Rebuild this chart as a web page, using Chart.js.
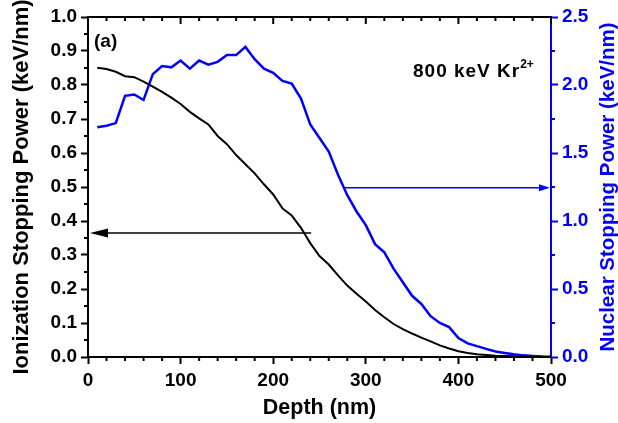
<!DOCTYPE html>
<html><head><meta charset="utf-8">
<script src="https://cdn.jsdelivr.net/npm/chart.js@4/dist/chart.umd.min.js"></script>
<style>html,body{margin:0;padding:0;background:#fff;overflow:hidden}</style>
</head><body>
<canvas id="c" width="618" height="423" style="display:block;width:618px;height:423px"></canvas>
<script>
const depth = [10,20,30,40,50,60,70,80,90,100,110,120,130,140,150,160,170,180,190,200,210,220,230,240,250,260,270,280,290,300,310,320,330,340,350,360,370,380,390,400,410,420,430,440,450,460,470,480,490,500];
const ionization = [0.851,0.847,0.839,0.826,0.823,0.810,0.795,0.780,0.763,0.744,0.721,0.702,0.684,0.650,0.626,0.594,0.567,0.540,0.508,0.478,0.437,0.416,0.380,0.335,0.297,0.272,0.240,0.210,0.186,0.163,0.138,0.117,0.097,0.082,0.069,0.057,0.046,0.034,0.025,0.017,0.012,0.008,0.006,0.004,0.003,0.002,0.001,0.001,0.0005,0.0];
const nuclear = [1.69,1.70,1.72,1.92,1.93,1.89,2.08,2.14,2.13,2.18,2.12,2.18,2.15,2.17,2.22,2.22,2.28,2.19,2.12,2.09,2.03,2.01,1.90,1.71,1.61,1.51,1.34,1.19,1.07,0.97,0.83,0.77,0.65,0.55,0.45,0.39,0.30,0.25,0.22,0.14,0.10,0.08,0.06,0.04,0.03,0.02,0.012,0.007,0.003,0.001];
const xTickValues = [0,100,200,300,400,500];
const leftTickValues = [0,0.1,0.2,0.3,0.4,0.5,0.6,0.7,0.8,0.9,1.0];
const rightTickValues = [0,0.5,1.0,1.5,2.0,2.5];
const ionArrowX = [241, 0];
const ionArrowY = 0.365;
const nucArrowX = [277, 500];
const nucArrowY = 1.245;
const panelLabel = '(a)';
const ionText = '800 keV Kr';
const ionCharge = '2+';
const xTitle = 'Depth (nm)';
const leftTitle = 'Ionization Stopping Power (keV/nm)';
const rightTitle = 'Nuclear Stopping Power (keV/nm)';

const FONT = '"Liberation Sans", Arial, Helvetica, sans-serif';
const BLUE = '#0000ff';

const extras = {
  id: 'extras',
  afterDatasetsDraw(chart) {
    const ctx = chart.ctx;
    const xs = chart.scales.x, yl = chart.scales.y, yr = chart.scales.y1;
    const a = chart.chartArea;
    ctx.save();
    ctx.strokeStyle = '#000'; ctx.lineWidth = 2;
    ctx.beginPath(); ctx.moveTo(a.left - 1, a.top); ctx.lineTo(a.right, a.top); ctx.stroke();
    for (let v = 0; v <= 500; v += 20) {
      const px = xs.getPixelForValue(v);
      const major = v % 100 === 0;
      ctx.beginPath();
      if (!major) { ctx.moveTo(px, a.bottom); ctx.lineTo(px, a.bottom + 4); }
      ctx.moveTo(px, a.top); ctx.lineTo(px, a.top + (major ? 7 : 4));
      ctx.stroke();
    }
    for (let i = 0; i < 10; i++) {
      const py = yl.getPixelForValue(i * 0.1 + 0.05);
      ctx.beginPath(); ctx.moveTo(a.left, py); ctx.lineTo(a.left - 4, py); ctx.stroke();
    }
    ctx.strokeStyle = BLUE;
    for (let i = 0; i < 5; i++) {
      const py = yr.getPixelForValue(i * 0.5 + 0.25);
      ctx.beginPath(); ctx.moveTo(a.right, py); ctx.lineTo(a.right + 4, py); ctx.stroke();
    }
    function arrow(x1, y1, x2, y2, color, len, hw) {
      ctx.strokeStyle = color; ctx.fillStyle = color; ctx.lineWidth = 1.5;
      const dir = Math.sign(x2 - x1);
      ctx.beginPath(); ctx.moveTo(x1, y1); ctx.lineTo(x2 - dir * len * 0.8, y2); ctx.stroke();
      ctx.beginPath(); ctx.moveTo(x2, y2); ctx.lineTo(x2 - dir * len, y2 - hw); ctx.lineTo(x2 - dir * len, y2 + hw); ctx.closePath(); ctx.fill();
    }
    const ly = yl.getPixelForValue(ionArrowY);
    arrow(xs.getPixelForValue(ionArrowX[0]), ly, xs.getPixelForValue(ionArrowX[1]) + 2, ly, '#000', 18, 4.5);
    const ry = yr.getPixelForValue(nucArrowY);
    arrow(xs.getPixelForValue(nucArrowX[0]), ry, xs.getPixelForValue(nucArrowX[1]) - 1, ry, BLUE, 11, 3.5);
    // texts
    ctx.fillStyle = '#000'; ctx.textBaseline = 'alphabetic'; ctx.textAlign = 'left';
    ctx.font = 'bold 19px ' + FONT;
    ctx.fillText(panelLabel, 94, 47);
    if ('letterSpacing' in ctx) ctx.letterSpacing = '1px';
    ctx.fillText(ionText, 413, 77);
    const w = ctx.measureText(ionText).width;
    if ('letterSpacing' in ctx) ctx.letterSpacing = '0px';
    ctx.font = 'bold 12px ' + FONT;
    ctx.fillText(ionCharge, 413 + w, 68);
    // right axis title, reading bottom to top
    ctx.save();
    ctx.fillStyle = BLUE;
    ctx.font = 'bold 20.5px ' + FONT;
    ctx.textAlign = 'center'; ctx.textBaseline = 'middle';
    ctx.translate(608, (a.top + a.bottom) / 2);
    ctx.rotate(-Math.PI / 2);
    ctx.fillText(rightTitle, 0, 0);
    ctx.restore();
    ctx.restore();
  }
};

const tickFont = { family: FONT, size: 19, weight: 'bold' };

new Chart(document.getElementById('c'), {
  type: 'line',
  data: {
    datasets: [
      { label: 'Ionization', data: depth.map((d, i) => ({ x: d, y: ionization[i] })), yAxisID: 'y',
        borderColor: '#000', borderWidth: 2, pointRadius: 0, tension: 0, fill: false },
      { label: 'Nuclear', data: depth.map((d, i) => ({ x: d, y: nuclear[i] })), yAxisID: 'y1',
        borderColor: BLUE, borderWidth: 2.5, pointRadius: 0, tension: 0, fill: false }
    ]
  },
  options: {
    responsive: false, animation: false, devicePixelRatio: 1,
    layout: { padding: { top: 17, left: 0, right: 0, bottom: 0 } },
    plugins: { legend: { display: false }, tooltip: { enabled: false } },
    scales: {
      x: {
        type: 'linear', position: 'bottom', min: 0, max: 500,
        afterBuildTicks: s => { s.ticks = xTickValues.map(v => ({ value: v })); },
        ticks: { font: tickFont, color: '#000', padding: 5, maxRotation: 0 },
        grid: { display: true, drawOnChartArea: false, drawTicks: true, tickLength: 7, tickWidth: 2, color: '#000' },
        border: { display: true, color: '#000', width: 2 },
        title: { display: true, text: xTitle, font: { family: FONT, size: 21.5, weight: 'bold', lineHeight: 1 }, color: '#000', padding: { top: 0, bottom: 4 } },
        afterFit: s => { s.height = 66; }
      },
      y: {
        type: 'linear', position: 'left', min: 0, max: 1,
        afterBuildTicks: s => { s.ticks = leftTickValues.map(v => ({ value: v })); },
        ticks: { font: tickFont, color: '#000', padding: 4, callback: v => v.toFixed(1) },
        grid: { display: true, drawOnChartArea: false, drawTicks: true, tickLength: 7, tickWidth: 2, color: '#000' },
        border: { display: true, color: '#000', width: 2 },
        title: { display: true, text: leftTitle, font: { family: FONT, size: 22, weight: 'bold', lineHeight: 1 }, color: '#000', padding: { top: 11, bottom: 0 } },
        afterFit: s => { s.width = 88; }
      },
      y1: {
        type: 'linear', position: 'right', min: 0, max: 2.5,
        afterBuildTicks: s => { s.ticks = rightTickValues.map(v => ({ value: v })); },
        ticks: { font: tickFont, color: BLUE, padding: 4, callback: v => v.toFixed(1) },
        grid: { display: true, drawOnChartArea: false, drawTicks: true, tickLength: 7, tickWidth: 2, color: BLUE },
        border: { display: true, color: BLUE, width: 2 },
        title: { display: false },
        afterFit: s => { s.width = 67; }
      }
    }
  },
  plugins: [extras]
});
</script>
</body></html>
